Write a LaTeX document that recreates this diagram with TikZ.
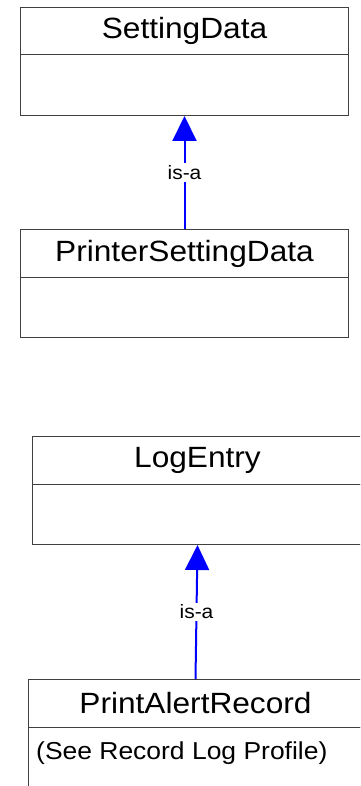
\documentclass[tikz,border=0pt]{standalone}
\usepackage{fontspec}
\setmainfont{Liberation Sans}
\newfontfamily\widefont[FakeStretch=1.08]{Liberation Sans}
\usetikzlibrary{arrows.meta}
\definecolor{isablue}{RGB}{0,0,255}
\begin{document}
\begin{tikzpicture}[x=1pt,y=-1pt,
  hdr/.style={draw=black!75, line width=1pt, minimum height=48pt, inner sep=0pt, anchor=north west, font=\widefont\fontsize{29.3}{34}\selectfont},
  bdy/.style={draw=black!75, line width=1pt, inner sep=0pt, anchor=north west},
  isa/.style={draw=isablue, fill=isablue, line width=2pt, -{Triangle[length=25pt,width=24pt]}},
  lbl/.style={fill=white, draw=none, inner sep=2pt, text=black, font=\widefont\fontsize{19.4}{22}\selectfont},
  note/.style={inner sep=0pt, anchor=base west, font=\widefont\fontsize{24.5}{28}\selectfont}]
\clip (0,0) rectangle (360,786);
% SettingData
\node[hdr, minimum width=328pt, minimum height=47pt] (b1h) at (20,7) {SettingData};
\node[bdy, minimum width=328pt, minimum height=61pt] (b1b) at (20,54) {};
% PrinterSettingData
\node[hdr, minimum width=328pt] (b2h) at (20,229) {PrinterSettingData};
\node[bdy, minimum width=328pt, minimum height=60pt] (b2b) at (20,277) {};
% LogEntry
\node[hdr, minimum width=330pt] (b3h) at (32,436) {LogEntry};
\node[bdy, minimum width=330pt, minimum height=60pt] (b3b) at (32,484) {};
% PrintAlertRecord
\node[hdr, minimum width=334pt] (b4h) at (28,679) {PrintAlertRecord};
\node[bdy, minimum width=334pt, minimum height=80pt] (b4b) at (28,727) {};
\node[note] (b4t) at (36,759) {(See Record Log Profile)};
% connectors
\draw[isa] (b2h.north) -- node[lbl] (l1) {is-a} (b1b.south);
\draw[isa] (b4h.north) -- node[lbl] (l2) {is-a} (b3b.south);
\end{tikzpicture}
\end{document}
